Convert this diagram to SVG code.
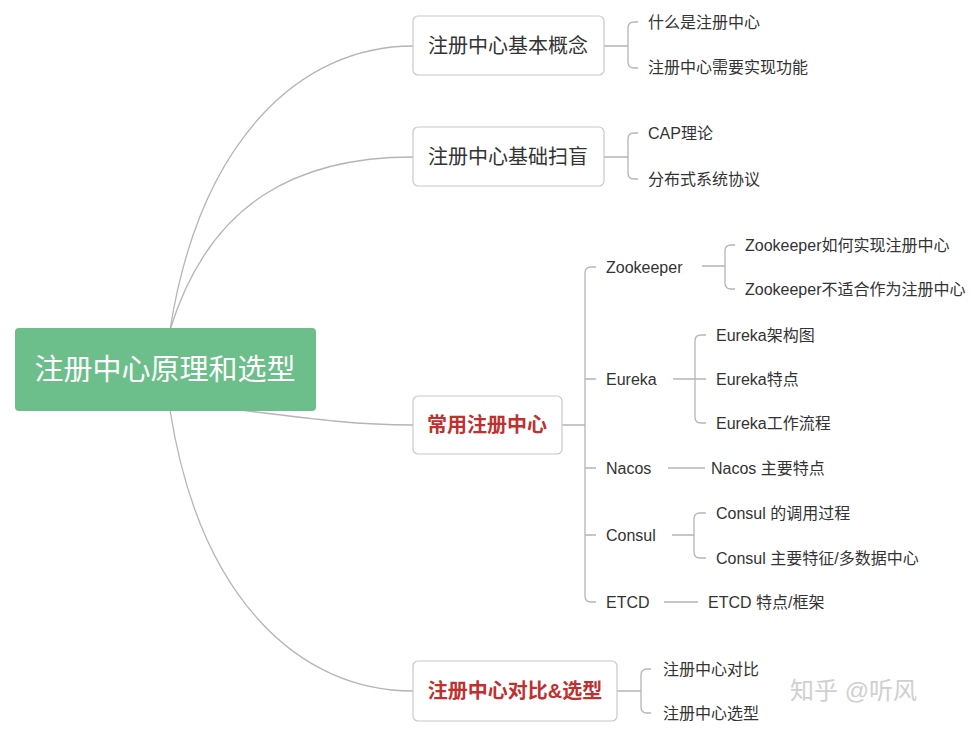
<svg xmlns="http://www.w3.org/2000/svg" width="971" height="730" viewBox="0 0 971 730">
<style>
text{font-family:"Liberation Sans","Noto Sans CJK SC",sans-serif;dominant-baseline:central}
.box{fill:#fff;stroke:#c8c8c8;stroke-width:1.2}
.l1{font-size:20px;fill:#333;text-anchor:middle}
.red{fill:#c0302e;font-weight:bold}
.t{font-size:16px;fill:#333}
.c{fill:none;stroke:#b5b5b5;stroke-width:1.3}
</style>
<rect width="971" height="730" fill="#fff"/>
<g id="connectors">
<path class="c" d="M170,330 C200,140 300,46 413,46"/>
<path class="c" d="M170,330 C210,200 300,157 413,157"/>
<path class="c" d="M240,410 C320,420 360,425 413,425"/>
<path class="c" d="M170,410 C200,600 300,691 413,691"/>
<path class="c" d="M604,46H628M638,22H634Q628,22 628,28V62Q628,68 634,68H638"/>
<path class="c" d="M604,157H628M638,133H634Q628,133 628,139V173Q628,179 634,179H638"/>
<path class="c" d="M562,425H585M596,267H591Q585,267 585,273V596Q585,602 591,602H596M585,379H596M585,468H596M585,535H596"/>
<path class="c" d="M702,266H725M735,245H731Q725,245 725,251V283Q725,289 731,289H735"/>
<path class="c" d="M673,379H706M706,335H701Q695,335 695,341V417Q695,423 701,423H706"/>
<path class="c" d="M668,468H705"/>
<path class="c" d="M672,535H694M706,513H700Q694,513 694,519V552Q694,558 700,558H706"/>
<path class="c" d="M664,602H698"/>
<path class="c" d="M617,691H641M651,669H647Q641,669 641,675V707Q641,713 647,713H651"/>
</g>
<g id="root"><rect x="15" y="328" width="301" height="83" rx="4" fill="#6cbf8a"/><text x="165" y="370" font-size="29" fill="#fff" text-anchor="middle">注册中心原理和选型</text></g>
<g id="n1"><rect class="box" x="413" y="16" width="191" height="59" rx="5"/><text class="l1" x="508" y="46">注册中心基本概念</text></g>
<g id="n2"><rect class="box" x="413" y="127" width="191" height="59" rx="5"/><text class="l1" x="508" y="157">注册中心基础扫盲</text></g>
<g id="n3"><rect class="box" x="413" y="396" width="149" height="58" rx="5"/><text class="l1 red" x="487" y="425">常用注册中心</text></g>
<g id="n4"><rect class="box" x="413" y="661" width="204" height="60" rx="5"/><text class="l1 red" x="515" y="691">注册中心对比&amp;选型</text></g>
<g id="leaves">
<text class="t" x="648" y="22">什么是注册中心</text>
<text class="t" x="648" y="67">注册中心需要实现功能</text>
<text class="t" x="648" y="133">CAP理论</text>
<text class="t" x="648" y="179">分布式系统协议</text>
<text class="t" x="606" y="267">Zookeeper</text>
<text class="t" x="606" y="379">Eureka</text>
<text class="t" x="606" y="468">Nacos</text>
<text class="t" x="606" y="535">Consul</text>
<text class="t" x="606" y="602">ETCD</text>
<text class="t" x="745" y="245">Zookeeper如何实现注册中心</text>
<text class="t" x="745" y="289">Zookeeper不适合作为注册中心</text>
<text class="t" x="716" y="335">Eureka架构图</text>
<text class="t" x="716" y="379">Eureka特点</text>
<text class="t" x="716" y="423">Eureka工作流程</text>
<text class="t" x="711" y="468">Nacos 主要特点</text>
<text class="t" x="716" y="513">Consul 的调用过程</text>
<text class="t" x="716" y="558">Consul 主要特征/多数据中心</text>
<text class="t" x="708" y="602">ETCD 特点/框架</text>
<text class="t" x="663" y="669">注册中心对比</text>
<text class="t" x="663" y="713">注册中心选型</text>
</g>
<text x="790" y="690" font-size="24" fill="#d0d0d0">知乎 @听风</text>
</svg>
